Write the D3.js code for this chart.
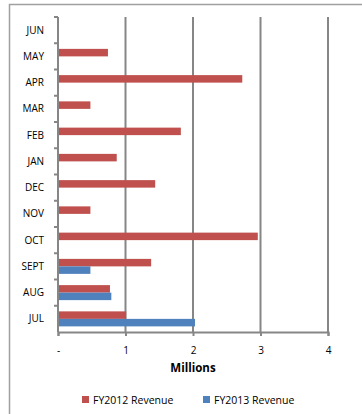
<!DOCTYPE html>
<html>
<head>
<meta charset="utf-8">
<script src="https://cdn.jsdelivr.net/npm/d3@7"></script>
<style>
  body { margin: 0; background: #fff; }
  svg { display: block; }
  text { font-family: "Open Sans", "Liberation Sans", sans-serif; fill: #000; }
</style>
</head>
<body>
<svg id="chart" width="362" height="414"></svg>
<script>
// months from bottom (JUL) to top (JUN)
let months = ["JUL", "AUG", "SEPT", "OCT", "NOV", "DEC", "JAN", "FEB", "MAR", "APR", "MAY", "JUN"];
let fy2012 = [1.01, 0.77, 1.38, 2.96, 0.48, 1.44, 0.87, 1.82, 0.48, 2.73, 0.74, null];
let fy2013 = [2.03, 0.79, 0.48, null, null, null, null, null, null, null, null, null];
let seriesNames = ["FY2012 Revenue", "FY2013 Revenue"];
let xTickValues = [0, 1, 2, 3, 4];
let xTickLabels = ["-", "1", "2", "3", "4"];

let colors = ["#c0504d", "#4f81bd"];
let gridColor = "#868686";

let svg = d3.select("#chart");

// outer frame (only left and top edges show inside the window)
svg.append("rect")
    .attr("x", 9.5).attr("y", 4.5)
    .attr("width", 400).attr("height", 450)
    .attr("fill", "none")
    .attr("stroke", "#a0a0a0")
    .attr("stroke-width", 1.5);

let plotLeft = 58, plotRight = 328, plotTop = 17, plotBottom = 332;

let x = d3.scaleLinear().domain([0, 4]).range([plotLeft, plotRight]);
let y = d3.scaleBand().domain(months).range([plotBottom, plotTop]);

// gridlines
svg.append("g").selectAll("line")
    .data(xTickValues.slice(1))
    .enter().append("line")
    .attr("x1", d => x(d)).attr("x2", d => x(d))
    .attr("y1", plotTop).attr("y2", plotBottom)
    .attr("stroke", gridColor)
    .attr("stroke-width", 2);

// bars
let barH = 7.5;
let series = [fy2012, fy2013];
series.forEach((vals, i) => {
    svg.append("g").selectAll("rect")
        .data(months.map((m, j) => ({ m: m, v: vals[j] })).filter(d => d.v != null))
        .enter().append("rect")
        .attr("x", x(0))
        .attr("y", d => y(d.m) + y.bandwidth() / 2 - barH + i * barH)
        .attr("width", d => x(d.v) - x(0))
        .attr("height", barH)
        .attr("fill", colors[i]);
});

// bottom axis
let xAxis = svg.append("g")
    .attr("transform", `translate(0,${plotBottom})`)
    .call(d3.axisBottom(x).tickValues(xTickValues).tickFormat((d, i) => xTickLabels[i]).tickSize(4).tickPadding(11));
xAxis.select(".domain").attr("stroke", gridColor).attr("stroke-width", 2);
xAxis.selectAll(".tick line").attr("stroke", gridColor).attr("stroke-width", 2);
xAxis.selectAll("text").attr("font-size", 10).style("font-family", "'Open Sans', sans-serif");

// left axis with ticks at category boundaries
svg.append("line")
    .attr("x1", plotLeft).attr("x2", plotLeft)
    .attr("y1", plotTop).attr("y2", plotBottom)
    .attr("stroke", gridColor).attr("stroke-width", 2);
svg.append("g").selectAll("line")
    .data(months)
    .enter().append("line")
    .attr("x1", plotLeft - 4).attr("x2", plotLeft)
    .attr("y1", d => y(d)).attr("y2", d => y(d))
    .attr("stroke", gridColor).attr("stroke-width", 2);

svg.append("g").selectAll("text")
    .data(months)
    .enter().append("text")
    .attr("x", 44)
    .attr("y", d => y(d) + y.bandwidth() / 2)
    .attr("dy", "0.35em")
    .attr("text-anchor", "end")
    .attr("font-size", 10)
    .text(d => d);

// axis title
svg.append("text")
    .attr("x", (plotLeft + plotRight) / 2)
    .attr("y", 372)
    .attr("text-anchor", "middle")
    .attr("font-size", 11.5)
    .attr("font-weight", "bold")
    .text("Millions");

// legend
let legendX = [82, 203];
seriesNames.forEach((name, i) => {
    svg.append("rect")
        .attr("x", legendX[i]).attr("y", 396)
        .attr("width", 7).attr("height", 7)
        .attr("fill", colors[i]);
    svg.append("text")
        .attr("x", legendX[i] + 11).attr("y", 400)
        .attr("dy", "0.35em")
        .attr("font-size", 10.5)
        .text(name);
});
</script>
</body>
</html>
